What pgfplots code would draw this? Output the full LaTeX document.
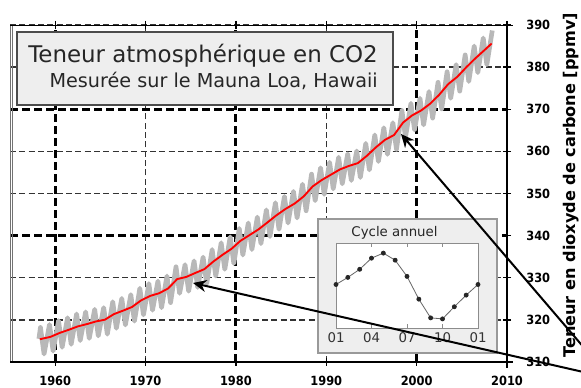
\documentclass[border=0pt]{standalone}
\usepackage{pgfplots}
\pgfplotsset{compat=1.18}
\usepackage{fontspec}
\setmainfont{DejaVu Sans}
\newfontfamily\condfont{DejaVu Sans Condensed}
\usetikzlibrary{arrows.meta}
\definecolor{seas}{HTML}{B8B8B8}
\definecolor{boxfill}{HTML}{EEEEEE}
\begin{document}
\begin{tikzpicture}
\useasboundingbox (-7.5pt,-19.5pt) rectangle (428.25pt,271.5pt);
\begin{axis}[
  at={(0pt,0pt)}, anchor=south west,
  scale only axis, width=372.75pt, height=252.75pt,
  xmin=1955, xmax=2010, ymin=310, ymax=390,
  axis line style={draw=none},
  xtick={1970,1990,2010}, extra x ticks={1960,1980,2000},
  ytick={310,320,330,350,360,380,390}, extra y ticks={340,370},
  grid=major,
  major grid style={black!80, line width=1.1pt, dash pattern=on 4.5pt off 2.5pt},
  extra x tick style={grid=major, major grid style={black, line width=2.2pt, dash pattern=on 6pt off 3pt}},
  extra y tick style={grid=major, major grid style={black, line width=2.2pt, dash pattern=on 6pt off 3pt}},
  ytick pos=right, yticklabel pos=right,
  tick align=center, major tick length=6pt,
  tick style={black, line width=1pt},
  /pgf/number format/assume math mode=true,
  /pgf/number format/1000 sep={},
  ticklabel style={font=\condfont\bfseries\fontsize{9.5}{9.5}\selectfont},
  xticklabel style={yshift=-4pt},
  yticklabel style={xshift=8pt},
]
\addplot[seas, line width=3.5pt, line join=round] table {
1958.2 315.5
1958.37 318.2
1958.77 311.9
1959.37 318.9
1959.77 312.6
1960.37 319.8
1960.77 313.5
1961.37 320.5
1961.77 314.2
1962.37 321.4
1962.77 315.1
1963.37 321.9
1963.77 315.6
1964.37 322.5
1964.77 316.2
1965.37 322.9
1965.77 316.6
1966.37 324.3
1966.77 318.0
1967.37 325.1
1967.77 318.8
1968.37 326.0
1968.77 319.7
1969.37 327.5
1969.77 321.2
1970.37 328.6
1970.77 322.3
1971.37 329.2
1971.77 322.9
1972.37 330.4
1972.77 324.1
1973.37 332.6
1973.77 326.3
1974.37 333.1
1974.77 326.8
1975.37 334.0
1975.77 327.7
1976.37 334.9
1976.77 328.6
1977.37 336.7
1977.77 330.4
1978.37 338.3
1978.77 332.0
1979.37 339.7
1979.77 333.4
1980.37 341.7
1980.77 335.4
1981.37 343.0
1981.77 336.7
1982.37 344.4
1982.77 338.1
1983.37 346.1
1983.77 339.8
1984.37 347.8
1984.77 341.5
1985.37 349.3
1985.77 343.0
1986.37 350.5
1986.77 344.2
1987.37 352.2
1987.77 345.9
1988.37 354.6
1988.77 348.3
1989.37 356.1
1989.77 349.8
1990.37 357.4
1990.77 351.1
1991.37 358.6
1991.77 352.3
1992.37 359.4
1992.77 353.1
1993.37 360.1
1993.77 353.8
1994.37 361.9
1994.77 355.6
1995.37 363.9
1995.77 357.6
1996.37 365.6
1996.77 359.3
1997.37 366.8
1997.77 360.5
1998.37 369.7
1998.77 363.4
1999.37 371.4
1999.77 365.1
2000.37 372.6
2000.77 366.3
2001.37 374.2
2001.77 367.9
2002.37 376.4
2002.77 370.1
2003.37 378.9
2003.77 372.6
2004.37 380.6
2004.77 374.3
2005.37 382.9
2005.77 376.6
2006.37 385.0
2006.77 378.7
2007.37 386.9
2007.77 380.6
2008.37 388.7
};
\addplot[red, line width=1.4pt, line join=round] table {
1958.3 315.4
1959.5 315.98
1960.5 316.91
1961.5 317.64
1962.5 318.45
1963.5 318.99
1964.5 319.62
1965.5 320.04
1966.5 321.37
1967.5 322.18
1968.5 323.05
1969.5 324.62
1970.5 325.68
1971.5 326.32
1972.5 327.46
1973.5 329.68
1974.5 330.19
1975.5 331.13
1976.5 332.03
1977.5 333.84
1978.5 335.41
1979.5 336.84
1980.5 338.76
1981.5 340.12
1982.5 341.48
1983.5 343.15
1984.5 344.85
1985.5 346.35
1986.5 347.61
1987.5 349.31
1988.5 351.69
1989.5 353.20
1990.5 354.45
1991.5 355.70
1992.5 356.54
1993.5 357.21
1994.5 358.96
1995.5 360.97
1996.5 362.74
1997.5 363.88
1998.5 366.84
1999.5 368.54
2000.5 369.71
2001.5 371.32
2002.5 373.45
2003.5 375.98
2004.5 377.70
2005.5 379.98
2006.5 382.09
2007.5 384.02
2008.3 385.6
};
\end{axis}
% frame
\draw[black!55, line width=0.5pt] (0pt,0pt) -- (0pt,252.75pt);
\draw[black!55, line width=0.5pt] (1.5pt,0pt) -- (1.5pt,252.75pt);
\draw[black, line width=0.7pt] (0pt,252.75pt) -- (377.25pt,252.75pt);
\draw[black, line width=0.9pt] (0pt,0pt) -- (377.25pt,0pt);
\draw[black, line width=2.2pt] (372.75pt,253.5pt) -- (372.75pt,-4.5pt);
% title box
\draw[fill=boxfill, draw=black!70, line width=1pt] (5.25pt,192.75pt) rectangle (287.25pt,247.5pt);
\node[anchor=base west, inner sep=0pt, font=\fontsize{17.2}{17.2}\selectfont, text=black!85] at (13.5pt,224.25pt) {Teneur atmosphérique en CO2};
\node[anchor=base east, inner sep=0pt, font=\fontsize{14.4}{14.4}\selectfont, text=black!85] at (276pt,205.5pt) {Mesurée sur le Mauna Loa, Hawaii};
% inset
\draw[fill=boxfill, draw=black!40, line width=0.8pt] (231pt,6.75pt) rectangle (365.25pt,107.25pt);
\node[anchor=base, inner sep=0pt, font=\fontsize{10}{10}\selectfont, text=black!85] at (288.4pt,93.75pt) {Cycle annuel};
\begin{axis}[
  at={(244.5pt,25.5pt)}, anchor=south west,
  scale only axis, width=106.5pt, height=63.75pt,
  xmin=1, xmax=13, ymin=-4.2, ymax=4.2,
  axis background/.style={fill=white},
  axis line style={black!45},
  xtick={1,4,7,10,13}, xticklabels={01,04,07,10,01},
  ytick=\empty,
  tick style={black!45}, major tick length=3pt,
  xticklabel style={font=\fontsize{10}{10}\selectfont, text=black!80},
]
\addplot[black!60, line width=0.6pt, mark=*, mark size=1.5pt, mark options={fill=black!85, draw=black!85}] coordinates {
(1,0.1) (2,0.8) (3,1.6) (4,2.7) (5,3.2) (6,2.5) (7,0.9) (8,-1.35) (9,-3.2) (10,-3.3) (11,-2.1) (12,-0.95) (13,0.1)
};
\end{axis}
% arrows
\draw[-{Stealth[length=10pt,width=9pt]}, line width=1.5pt] (442.5pt,-3.3pt) -- (293.25pt,171pt);
\draw[-{Stealth[length=10pt,width=9pt]}, line width=1.5pt] (442.5pt,-10.35pt) -- (137.25pt,59.25pt);
% y label
\node[rotate=90, anchor=base west, inner sep=0pt, font=\bfseries\fontsize{12.1}{12.1}\selectfont] at (423.75pt,3pt) {Teneur en dioxyde de carbone [ppmv]};
\end{tikzpicture}
\end{document}
